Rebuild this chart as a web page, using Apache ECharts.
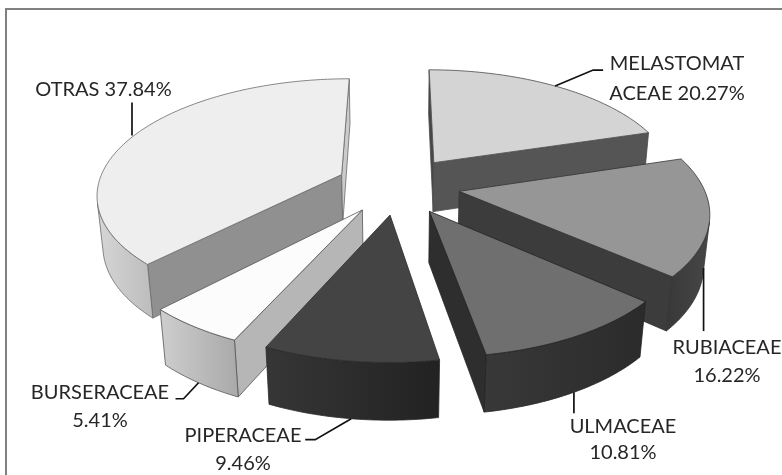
<!DOCTYPE html>
<html>
<head>
<meta charset="utf-8">
<style>html,body{margin:0;background:#fff}#chart{width:782px;height:475px}</style>
<script src="https://cdn.jsdelivr.net/npm/echarts@6/dist/echarts.min.js"></script>
</head>
<body>
<div id="chart"></div>
<script>
// Family shares, clockwise from twelve o'clock
const families = ['MELASTOMATACEAE', 'RUBIACEAE', 'ULMACEAE', 'PIPERACEAE', 'BURSERACEAE', 'OTRAS'];
const shares = [20.27, 16.22, 10.81, 9.46, 5.41, 37.84];
const labelLines = [
  ['MELASTOMAT', 'ACEAE {v}'],
  ['RUBIACEAE', '{v}'],
  ['ULMACEAE', '{v}'],
  ['PIPERACEAE', '{v}'],
  ['BURSERACEAE', '{v}'],
  ['OTRAS {v}']
];

// Greys per slice
const topFill = ['#d4d4d4', '#969696', '#6f6f6f', '#444444', '#fcfcfc', '#eeeeee'];
const startFaceFill = ['#474747', '#3c3c3c', '#2e2e2e', '#262626', '#b6b6b6', '#909090'];
const endFaceFill = ['#555555', '#3c3c3c', '#2e2e2e', '#262626', '#b6b6b6', '#cbcbcb'];
const wallStops = [
  ['#555555', '#555555'],
  ['#383838', '#474747'],
  ['#383838', '#2b2b2b'],
  ['#363636', '#222222'],
  ['#cecece', '#a9a9a9'],
  ['#d6d6d6', '#bcbcbc']
];
const edgeStroke = ['#4a4a4a', '#333333', '#222222', '#2a2a2a', '#555555', '#6a6a6a'];

// Label placement: text centre, line gap, and the leader bend points relative to the rim
const labelAnchor = [[677, 64], [727, 348], [623, 427], [243, 436], [100, 393], [103.5, 90]];
const labelGap = [30, 28, 26, 28, 28, 0];
const leaderBends = [
  [[0, 0], [38, -16], [48, -16]],
  [[0, 0], [0, 63]],
  [[0, 0], [0, 21]],
  [[0, 0], [-36, 21], [-46, 21]],
  [[0, 0], [-15, 16], [-23, 16]],
  [[-2, 0], [-2, -33]]
];
const leaderOnTop = [true, false, false, false, false, true];

// Camera and solid: the pie has unit radius and its top face lies at z = 0
const centerX = 398.2, centerY = 185.2, focal = 1376.8, distance = 5.649, pitch = 0.4862;
const thickness = 0.2367, explode = 0.2538;

function project(x, y, z) {
  const up = y * Math.sin(pitch) + z * Math.cos(pitch);
  const depth = distance + y * Math.cos(pitch) - z * Math.sin(pitch);
  return [centerX + focal * x / depth, centerY - focal * up / depth];
}
function signedArea(pts) {
  let s = 0;
  pts.forEach((p, i) => {
    const q = pts[(i + 1) % pts.length];
    s += p[0] * q[1] - q[0] * p[1];
  });
  return s / 2;
}

const total = shares.reduce((a, b) => a + b, 0);
let running = 0;
const slices = shares.map((v, i) => {
  const a0 = running / total * 2 * Math.PI;
  running += v;
  const a1 = running / total * 2 * Math.PI;
  const mid = (a0 + a1) / 2;
  return { i, a0, a1, mid, ox: explode * Math.sin(mid), oy: explode * Math.cos(mid) };
});
// Paint from the back of the scene to the front
const drawOrder = slices.slice().sort((p, q) => q.oy - p.oy).map(s => s.i);

function renderSlice(params, api) {
  const idx = api.value(1);
  const rank = drawOrder.indexOf(idx);
  const s = slices[idx];
  const rim = (t, z) => project(s.ox + Math.sin(t), s.oy + Math.cos(t), z);
  const steps = Math.max(8, Math.ceil((s.a1 - s.a0) / (Math.PI / 180)));
  const angles = [];
  for (let k = 0; k <= steps; k++) angles.push(s.a0 + (s.a1 - s.a0) * k / steps);

  const apexTop = project(s.ox, s.oy, 0);
  const apexBottom = project(s.ox, s.oy, -thickness);
  const stroke = edgeStroke[idx];
  const children = [];
  const face = (points, fill, order) => children.push({
    type: 'polygon',
    shape: { points },
    style: { fill, stroke, lineWidth: 0.8, lineJoin: 'round' },
    z2: rank * 10 + order
  });

  const startFace = [apexTop, rim(s.a0, 0), rim(s.a0, -thickness), apexBottom];
  if (signedArea(startFace) < 0) face(startFace, startFaceFill[idx], 1);
  const endFace = [rim(s.a1, 0), apexTop, apexBottom, rim(s.a1, -thickness)];
  if (signedArea(endFace) < 0) face(endFace, endFaceFill[idx], 1);

  // Rim wall: keep only the stretch that faces the camera
  const upper = [], lower = [];
  for (let k = 0; k < steps; k++) {
    const quad = [rim(angles[k], 0), rim(angles[k + 1], 0), rim(angles[k + 1], -thickness), rim(angles[k], -thickness)];
    if (signedArea(quad) < 0) {
      if (!upper.length) { upper.push(quad[0]); lower.push(quad[3]); }
      upper.push(quad[1]);
      lower.push(quad[2]);
    }
  }
  if (upper.length) {
    face(upper.concat(lower.reverse()),
      new echarts.graphic.LinearGradient(0, 0, 1, 0, [
        { offset: 0, color: wallStops[idx][0] },
        { offset: 1, color: wallStops[idx][1] }
      ]), 2);
  }

  face([apexTop].concat(angles.map(t => rim(t, 0))), topFill[idx], 3);

  // Leader line from the rim at the slice's middle angle, then its text
  const foot = rim(s.mid, leaderOnTop[idx] ? 0 : -thickness);
  children.push({
    type: 'polyline',
    shape: { points: leaderBends[idx].map(d => [foot[0] + d[0], foot[1] + d[1]]) },
    style: { fill: null, stroke: '#111111', lineWidth: 1.7 },
    z2: 1000
  });
  const pct = shares[idx].toFixed(2) + '%';
  labelLines[idx].forEach((line, n) => children.push({
    type: 'text',
    style: {
      text: line.replace('{v}', pct),
      x: labelAnchor[idx][0],
      y: labelAnchor[idx][1] + n * labelGap[idx],
      align: 'center',
      verticalAlign: 'middle',
      fontFamily: 'Lato',
      fontSize: 20,
      fill: '#262626'
    },
    z2: 1001
  }));
  return { type: 'group', children };
}

const chart = echarts.init(document.getElementById('chart'), null, { renderer: 'canvas' });
chart.setOption({
  animation: false,
  backgroundColor: '#ffffff',
  graphic: [
    { type: 'rect', shape: { x: 5, y: 8, width: 777, height: 2 }, style: { fill: '#808080' } },
    { type: 'rect', shape: { x: 5, y: 8, width: 2, height: 467 }, style: { fill: '#808080' } }
  ],
  series: [{
    type: 'custom',
    coordinateSystem: 'none',
    clip: false,
    renderItem: renderSlice,
    data: drawOrder.map(i => ({ name: families[i], value: [shares[i], i] }))
  }]
});
</script>
</body>
</html>
